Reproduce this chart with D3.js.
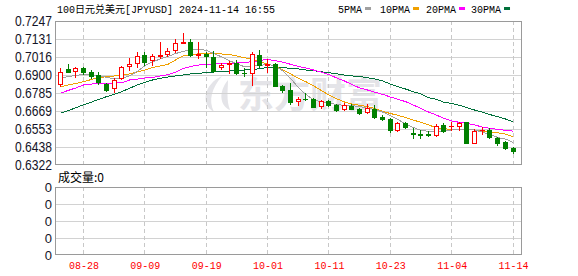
<!DOCTYPE html>
<html>
<head>
<meta charset="utf-8">
<script src="https://cdn.jsdelivr.net/npm/d3@7"></script>
<style>
  body { margin: 0; background: #fff; }
  svg { display: block; }
</style>
</head>
<body>
<svg id="chart" width="578" height="276"></svg>
<script>
// daily candles, 100 JPY -> USD
var dates = ["08-23","08-26","08-27","08-28","08-29","08-30","09-02","09-03","09-04","09-05",
  "09-06","09-09","09-10","09-11","09-12","09-13","09-16","09-17","09-18","09-19",
  "09-20","09-23","09-24","09-25","09-26","09-27","09-30","10-01","10-02","10-03",
  "10-04","10-07","10-08","10-09","10-10","10-11","10-14","10-15","10-16","10-17",
  "10-18","10-21","10-22","10-23","10-24","10-25","10-28","10-29","10-30","10-31",
  "11-01","11-04","11-05","11-06","11-07","11-08","11-11","11-12","11-13","11-14"];

var opens = [0.6840,0.6939,0.6926,0.6947,0.6917,0.6900,0.6840,0.6815,0.6879,0.6960,
  0.6975,0.7029,0.6996,0.7024,0.7033,0.7059,0.7106,0.7112,0.7031,0.7033,
  0.7018,0.6950,0.6968,0.6974,0.6914,0.6910,0.7029,0.6964,0.6970,0.6829,
  0.6804,0.6731,0.6746,0.6743,0.6703,0.6732,0.6709,0.6680,0.6701,0.6682,
  0.6664,0.6680,0.6632,0.6618,0.6547,0.6590,0.6528,0.6521,0.6521,0.6515,
  0.6579,0.6571,0.6574,0.6596,0.6465,0.6545,0.6547,0.6497,0.6468,0.6433];

var highs = [0.6943,0.6969,0.6953,0.6953,0.6932,0.6917,0.6847,0.6879,0.6960,0.7007,
  0.7046,0.7046,0.7033,0.7110,0.7072,0.7131,0.7168,0.7130,0.7115,0.7050,
  0.7054,0.6975,0.6992,0.6996,0.6943,0.7045,0.7061,0.7000,0.6975,0.6836,
  0.6849,0.6761,0.6785,0.6754,0.6738,0.6738,0.6712,0.6718,0.6711,0.6690,
  0.6712,0.6707,0.6643,0.6622,0.6600,0.6600,0.6558,0.6547,0.6540,0.6583,
  0.6590,0.6596,0.6600,0.6600,0.6551,0.6568,0.6558,0.6504,0.6476,0.6440];

var lows = [0.6831,0.6917,0.6889,0.6905,0.6879,0.6840,0.6797,0.6789,0.6874,0.6932,
  0.6953,0.6964,0.6964,0.7011,0.7024,0.7050,0.7104,0.7023,0.7009,0.6953,
  0.6921,0.6937,0.6916,0.6905,0.6892,0.6833,0.6953,0.6921,0.6829,0.6789,
  0.6714,0.6707,0.6740,0.6695,0.6690,0.6703,0.6669,0.6675,0.6679,0.6648,
  0.6656,0.6626,0.6611,0.6532,0.6540,0.6560,0.6497,0.6497,0.6510,0.6510,
  0.6532,0.6547,0.6547,0.6465,0.6461,0.6519,0.6497,0.6450,0.6425,0.6401];

var closes = [0.6921,0.6921,0.6943,0.6921,0.6896,0.6857,0.6806,0.6868,0.6953,0.6969,
  0.7024,0.6986,0.7020,0.7029,0.7054,0.7104,0.7110,0.7029,0.7037,0.7022,
  0.6924,0.6964,0.6980,0.6910,0.6912,0.7034,0.6964,0.6972,0.6831,0.6802,
  0.6727,0.6748,0.6743,0.6697,0.6732,0.6709,0.6675,0.6706,0.6684,0.6656,
  0.6690,0.6632,0.6618,0.6547,0.6590,0.6568,0.6524,0.6517,0.6517,0.6574,
  0.6540,0.6574,0.6590,0.6465,0.6542,0.6549,0.6504,0.6461,0.6433,0.6412];

var ma5 = [0.6879,0.6890,0.6897,0.6905,0.6902,0.6897,0.6884,0.6876,0.6879,0.6894,
  0.6923,0.6960,0.6984,0.7003,0.7019,0.7038,0.7051,0.7064,0.7067,0.7058,
  0.7038,0.7016,0.6993,0.6971,0.6953,0.6956,0.6961,0.6969,0.6958,0.6926,
  0.6878,0.6820,0.6775,0.6740,0.6729,0.6718,0.6711,0.6704,0.6703,0.6698,
  0.6686,0.6679,0.6662,0.6639,0.6614,0.6585,0.6563,0.6544,0.6538,0.6536,
  0.6542,0.6547,0.6553,0.6550,0.6547,0.6534,0.6518,0.6499,0.6489,0.6468];

var ma10 = [0.6825,0.6836,0.6846,0.6857,0.6871,0.6883,0.6889,0.6894,0.6898,0.6907,
  0.6919,0.6932,0.6948,0.6958,0.6968,0.6997,0.7022,0.7032,0.7036,0.7040,
  0.7038,0.7035,0.7032,0.7022,0.7011,0.7000,0.6984,0.6971,0.6956,0.6932,
  0.6907,0.6879,0.6857,0.6830,0.6801,0.6772,0.6748,0.6727,0.6714,0.6706,
  0.6697,0.6685,0.6666,0.6653,0.6641,0.6627,0.6611,0.6596,0.6579,0.6562,
  0.6555,0.6551,0.6551,0.6551,0.6547,0.6540,0.6536,0.6529,0.6521,0.6504];

var ma20 = [0.6783,0.6801,0.6817,0.6836,0.6842,0.6846,0.6847,0.6847,0.6851,0.6868,
  0.6874,0.6881,0.6884,0.6894,0.6902,0.6919,0.6942,0.6955,0.6964,0.6969,
  0.6971,0.6973,0.6975,0.6977,0.6980,0.6986,0.6993,0.7001,0.6992,0.6982,
  0.6969,0.6956,0.6945,0.6932,0.6919,0.6903,0.6881,0.6862,0.6839,0.6817,
  0.6804,0.6789,0.6776,0.6759,0.6744,0.6729,0.6707,0.6685,0.6662,0.6643,
  0.6621,0.6605,0.6596,0.6589,0.6579,0.6566,0.6558,0.6550,0.6545,0.6540];

var ma30 = [0.6654,0.6671,0.6690,0.6709,0.6725,0.6744,0.6761,0.6776,0.6793,0.6815,
  0.6836,0.6853,0.6868,0.6879,0.6887,0.6894,0.6900,0.6907,0.6911,0.6915,
  0.6919,0.6923,0.6926,0.6929,0.6932,0.6935,0.6941,0.6948,0.6952,0.6947,
  0.6943,0.6939,0.6932,0.6928,0.6921,0.6915,0.6908,0.6900,0.6894,0.6890,
  0.6883,0.6874,0.6862,0.6842,0.6825,0.6810,0.6793,0.6778,0.6754,0.6744,
  0.6725,0.6718,0.6706,0.6690,0.6675,0.6662,0.6646,0.6632,0.6618,0.6600];

var volumes = dates.map(function(){ return 0; });

var priceTicks = ["0.7247","0.7131","0.7016","0.6900","0.6785","0.6669","0.6553","0.6438","0.6322"];
var dateTicks = ["08-28","09-09","09-19","10-01","10-11","10-23","11-04","11-14"];
var volTicks = [0, 1, 2, 3, 4];
var volTickLabels = ["0","0","0","0","0"];

var maSeries = [
  { name: "5PMA",  values: ma5,  color: "#a0a0a0" },
  { name: "10PMA", values: ma10, color: "#f0a000" },
  { name: "20PMA", values: ma20, color: "#ff00ff" },
  { name: "30PMA", values: ma30, color: "#00703a" }
];

var UP = "#ff0000", DOWN = "#008000";
var GRID = "#d2d2d2", FRAME = "#9a9a9a";
var MONO = "'Liberation Mono','DejaVu Sans Mono','Noto Sans CJK SC',monospace";

var svg = d3.select("#chart");
var L = 55, R = 522;
var top1 = 21, bot1 = 165;
var top2 = 187, bot2 = 255;

var x = d3.scalePoint().domain(dates).range([60.5, 513]);
var y = d3.scaleLinear().domain([+priceTicks[priceTicks.length - 1], +priceTicks[0]]).range([bot1, top1]);
var yv = d3.scaleLinear().domain([0, 4]).range([bot2, top2]);

function px(d) { return Math.round(x(d) - 0.5); }
function crisp(v) { return Math.round(v) + 0.5; }

// title + legend
svg.append("text").attr("x", 57).attr("y", 12.5)
  .attr("font-family", MONO).attr("font-size", "10px").attr("fill", "#000")
  .text("100日元兑美元[JPYUSD] 2024-11-14 16:55");

var legendX = [338, 380, 426, 471];
maSeries.forEach(function(s, i) {
  var t = svg.append("text").attr("x", legendX[i]).attr("y", 12.5)
    .attr("font-family", MONO).attr("font-size", "10px").attr("fill", "#000")
    .text(s.name);
  var w = t.node().getComputedTextLength();
  svg.append("rect").attr("x", legendX[i] + w + 3).attr("y", 7)
    .attr("width", 6).attr("height", 3).attr("fill", s.color);
});

// watermark (logo swirl + name)
var wm = svg.append("g").attr("fill", "#e4e4e8");
wm.append("path").attr("d", "M222,76 C204,84 200,104 214,112 C208,100 212,88 222,76 Z");
wm.append("path").attr("d", "M228,80 C218,92 220,106 230,110 C226,100 228,90 228,80 Z");
wm.append("text").attr("x", 238).attr("y", 108)
  .attr("font-family", "'Noto Sans CJK SC',sans-serif").attr("font-weight", "bold")
  .attr("font-size", "36px").text("东方财富");

// grids
function drawPanel(top, bot, hValues, yScale) {
  var g = svg.append("g").attr("shape-rendering", "crispEdges");
  g.selectAll("line.h").data(hValues).enter().append("line")
    .attr("x1", L).attr("x2", R)
    .attr("y1", function(d){ return crisp(yScale(d)); })
    .attr("y2", function(d){ return crisp(yScale(d)); })
    .attr("stroke", GRID);
  g.selectAll("line.v").data(dateTicks).enter().append("line")
    .attr("x1", function(d){ return px(d) + 0.5; })
    .attr("x2", function(d){ return px(d) + 0.5; })
    .attr("y1", top).attr("y2", bot)
    .attr("stroke", "#c8c8c8").attr("stroke-dasharray", "4,3");
  return g;
}

drawPanel(top1, bot1, priceTicks.slice(1, -1).map(Number), y);
drawPanel(top2, bot2, volTicks.slice(1, -1), yv);

// moving averages
var line = d3.line()
  .x(function(d, i){ return x(dates[i]); })
  .y(function(d){ return y(d); });

var maG = svg.append("g").attr("shape-rendering", "crispEdges");
maSeries.slice().reverse().forEach(function(s) {
  maG.append("path").attr("d", line(s.values))
    .attr("fill", "none").attr("stroke", s.color).attr("stroke-width", 1);
});

// candles
var cG = svg.append("g").attr("shape-rendering", "crispEdges");
dates.forEach(function(d, i) {
  var o = opens[i], c = closes[i], h = highs[i], l = lows[i];
  var up = c >= o;
  var col = up ? UP : DOWN;
  var cx = px(d);
  var yt = Math.round(y(Math.max(o, c))), yb = Math.round(y(Math.min(o, c)));
  cG.append("line").attr("x1", cx + 0.5).attr("x2", cx + 0.5)
    .attr("y1", Math.round(y(h))).attr("y2", Math.round(y(l)) + 1)
    .attr("stroke", col);
  if (yb - yt < 1) {
    cG.append("line").attr("x1", cx - 2).attr("x2", cx + 3)
      .attr("y1", yt + 0.5).attr("y2", yt + 0.5).attr("stroke", col);
  } else if (up) {
    cG.append("rect").attr("x", cx - 1.5).attr("y", yt + 0.5)
      .attr("width", 4).attr("height", yb - yt)
      .attr("fill", "#fff").attr("stroke", col);
  } else {
    cG.append("rect").attr("x", cx - 2).attr("y", yt)
      .attr("width", 5).attr("height", yb - yt + 1)
      .attr("fill", col);
  }
});

// frames
[[top1, bot1], [top2, bot2]].forEach(function(p) {
  svg.append("rect").attr("x", L + 0.5).attr("y", p[0] + 0.5)
    .attr("width", R - L - 1).attr("height", p[1] - p[0] - 1)
    .attr("fill", "none").attr("stroke", FRAME).attr("shape-rendering", "crispEdges");
});

// axes
var yAxis = d3.axisLeft(y)
  .tickValues(priceTicks.map(Number))
  .tickFormat(function(d, i){ return priceTicks[i]; })
  .tickSize(0).tickPadding(3);

var ya = svg.append("g").attr("transform", "translate(" + L + ",0)").call(yAxis);
ya.select(".domain").remove();
ya.selectAll("text")
  .attr("font-family", "'Liberation Sans Narrow','Liberation Sans',Arial,sans-serif")
  .attr("font-size", "14px").attr("fill", "#141428")
  .attr("dy", "0.3em")
  .attr("textLength", 37).attr("lengthAdjust", "spacingAndGlyphs");

var vAxis = d3.axisLeft(yv)
  .tickValues(volTicks)
  .tickFormat(function(d, i){ return volTickLabels[i]; })
  .tickSize(0).tickPadding(3);

var va = svg.append("g").attr("transform", "translate(" + L + ",0)").call(vAxis);
va.select(".domain").remove();
va.selectAll("text")
  .attr("font-family", "'Liberation Sans',Arial,sans-serif")
  .attr("font-size", "13px").attr("fill", "#141428").attr("dy", "0.32em");

var xAxis = d3.axisBottom(x).tickValues(dateTicks).tickSize(0).tickPadding(7);
var xa = svg.append("g").attr("transform", "translate(0," + bot2 + ")").call(xAxis);
xa.select(".domain").remove();
xa.selectAll("text").attr("font-family", MONO).attr("font-size", "10px").attr("fill", "#ff0000");

svg.append("text").attr("x", 58).attr("y", 181.5)
  .attr("font-family", "'Noto Sans CJK SC',sans-serif").attr("font-size", "12px").attr("fill", "#000")
  .text("成交量:" + d3.sum(volumes));
</script>
</body>
</html>
